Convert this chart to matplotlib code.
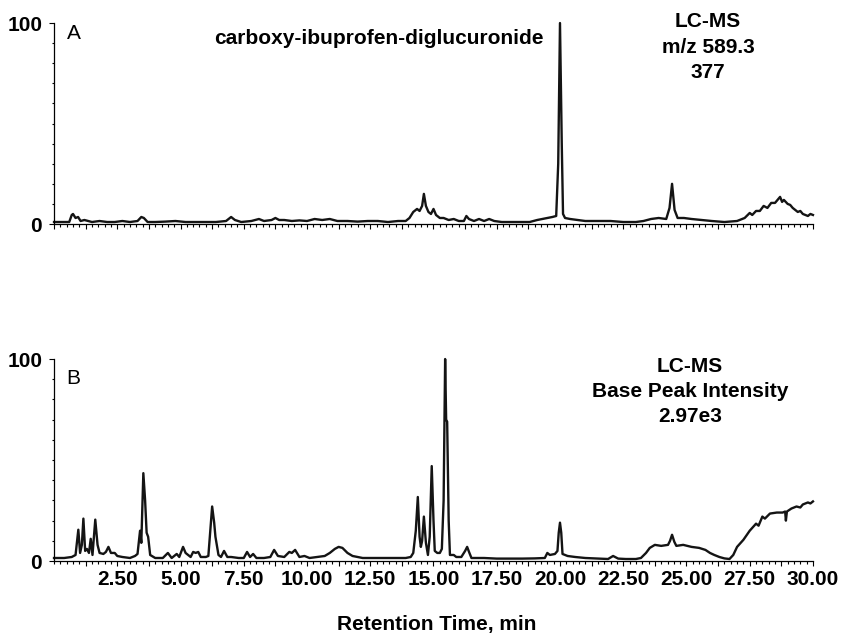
import matplotlib
matplotlib.use('Agg')

import matplotlib.pyplot as plt
from matplotlib.ticker import MultipleLocator, FixedLocator

plt.rcParams['font.family'] = ['Liberation Sans', 'DejaVu Sans']

# panel A: extracted ion chromatogram m/z 589.3
timeA = [0.0, 0.3, 0.6, 0.7, 0.75, 0.85, 0.95, 1.05, 1.2, 1.5, 1.8, 2.1, 2.4, 2.7, 3.0, 3.3,
         3.45, 3.55, 3.7, 4.0, 4.4, 4.8, 5.2, 5.6, 6.0, 6.4, 6.8, 7.0, 7.15, 7.4, 7.8, 8.1,
         8.3, 8.6, 8.75, 8.9, 9.1, 9.4, 9.7, 10.0, 10.3, 10.6, 10.9, 11.2, 11.6, 12.0, 12.4,
         12.8, 13.2, 13.6, 13.9, 14.05, 14.2, 14.35, 14.45, 14.55, 14.62, 14.7, 14.8, 14.9,
         15.0, 15.1, 15.25, 15.4, 15.6, 15.8, 16.0, 16.2, 16.3, 16.4, 16.6, 16.8, 17.0, 17.2,
         17.4, 17.7, 18.0, 18.4, 18.8, 19.1, 19.3, 19.5, 19.7, 19.85, 19.93, 20.0, 20.07,
         20.12, 20.2, 20.4, 20.7, 21.0, 21.5, 22.0, 22.5, 23.0, 23.3, 23.6, 23.9, 24.2, 24.33,
         24.43, 24.53, 24.65, 24.9, 25.2, 25.6, 26.0, 26.5, 27.0, 27.3, 27.5, 27.6, 27.75,
         27.9, 28.05, 28.2, 28.35, 28.5, 28.6, 28.7, 28.78, 28.85, 29.0, 29.1, 29.2, 29.4,
         29.5, 29.6, 29.8, 29.9, 30.0]
intensityA = [1, 1, 1, 4.5, 5, 3, 3.5, 1.5, 2, 1, 1.5, 1, 1, 1.5, 1, 1.5,
              3.5, 3, 1, 1, 1.2, 1.5, 1, 1, 1, 1, 1.5, 3.5, 2, 1, 1.5, 2.5,
              1.5, 2, 3, 2, 2, 1.5, 1.8, 1.5, 2.5, 2, 2.5, 1.5, 1.5, 1.2, 1.5,
              1.5, 1, 1.5, 1.5, 3, 6, 7.5, 6.5, 9, 15, 9, 6, 5,
              7.5, 4.5, 3, 3, 2, 2.5, 1.5, 1.5, 4, 2.5, 1.5, 2.5, 1.5, 2.5,
              1.5, 1, 1, 1, 1, 2, 2.5, 3, 3.5, 4, 30, 100, 40,
              5, 3, 2.5, 2, 1.5, 1.5, 1.5, 1, 1, 1.5, 2.5, 3, 2.5, 8,
              20, 7, 3, 3, 2.5, 2, 1.5, 1, 1.5, 3, 5.5, 4.5, 6.5,
              6.5, 9, 8, 10.5, 10.5, 12, 13.5, 11, 12, 10, 9.5, 8, 6,
              6.5, 5, 4, 5, 4.5]

# panel B: base peak intensity chromatogram
timeB = [0.0, 0.4, 0.7, 0.85, 0.96, 1.03, 1.1, 1.16, 1.23, 1.3, 1.38, 1.45, 1.52, 1.63, 1.72,
         1.8, 1.95, 2.05, 2.15, 2.25, 2.4, 2.5, 2.7, 3.0, 3.2, 3.3, 3.4, 3.45, 3.53, 3.6, 3.66,
         3.72, 3.8, 4.0, 4.3, 4.5, 4.65, 4.85, 4.95, 5.1, 5.2, 5.4, 5.5, 5.6, 5.7, 5.8, 6.0,
         6.1, 6.25, 6.33, 6.38, 6.5, 6.6, 6.72, 6.85, 7.0, 7.3, 7.5, 7.63, 7.75, 7.87, 8.0,
         8.3, 8.55, 8.7, 8.85, 9.1, 9.3, 9.4, 9.53, 9.7, 9.9, 10.1, 10.4, 10.7, 10.9, 11.1,
         11.25, 11.4, 11.6, 11.8, 12.2, 12.6, 13.0, 13.5, 13.9, 14.1, 14.2, 14.3, 14.38, 14.45,
         14.5, 14.55, 14.62, 14.7, 14.78, 14.85, 14.93, 15.0, 15.05, 15.15, 15.25, 15.33, 15.4,
         15.46, 15.5, 15.54, 15.6, 15.65, 15.8, 15.9, 16.1, 16.25, 16.33, 16.42, 16.5, 17.0,
         17.5, 18.0, 18.5, 19.0, 19.4, 19.5, 19.6, 19.8, 19.9, 19.95, 20.0, 20.05, 20.1, 20.3,
         20.6, 21.0, 21.5, 21.9, 22.1, 22.3, 22.6, 23.0, 23.2, 23.4, 23.55, 23.75, 24.0, 24.27,
         24.35, 24.43, 24.52, 24.6, 24.87, 25.2, 25.5, 25.75, 25.93, 26.1, 26.3, 26.5, 26.7,
         26.85, 27.0, 27.25, 27.5, 27.75, 27.85, 28.0, 28.1, 28.3, 28.57, 28.8, 28.9, 28.93,
         28.97, 29.15, 29.35, 29.5, 29.6, 29.8, 29.9, 30.0]
intensityB = [1.5, 1.5, 2, 3, 15.5, 4, 8, 21, 5, 6, 4, 11, 3, 20.5, 8,
              4, 3.5, 4.5, 7, 4, 4, 2.5, 2, 1.5, 2.5, 3.5, 15, 9, 43.5, 30, 14,
              12, 3, 1.5, 1.5, 4, 1.5, 3.5, 2, 7, 4, 2, 4.5, 4, 4.5, 2, 2,
              2.5, 27, 19, 12, 3, 2, 5, 2, 2, 1.5, 1.5, 4.5, 2, 3.5, 1.5,
              1.5, 2, 5.5, 2.5, 2, 4.5, 4, 5.5, 2, 2.5, 1.5, 2, 2.5, 4, 6,
              7, 6.5, 4, 2.5, 1.5, 1.5, 1.5, 1.5, 1.5, 2, 4, 15, 31.7, 12,
              7, 10, 22, 9, 3, 12, 47, 20, 5, 4, 4, 6, 30,
              100, 70, 69, 20, 3, 3, 2, 2, 5, 7, 4, 1.5, 1.5,
              1.2, 1.2, 1.2, 1.3, 1.5, 4, 3, 3.5, 5, 14, 19, 14, 3.5, 2.5,
              2, 1.5, 1.2, 1, 2.5, 1.2, 1, 1, 1.5, 4, 6.5, 8, 7.5, 8,
              10, 13, 9.5, 7.5, 8, 7, 6.5, 5.5, 4, 3, 2, 1.3, 1,
              3, 7, 10.5, 15, 18.5, 17.5, 22, 21, 23.5, 24, 24, 24.5, 20,
              24.5, 26, 27, 26.5, 28, 29, 28.5, 29.5]

xticks = [2.5, 5.0, 7.5, 10.0, 12.5, 15.0, 17.5, 20.0, 22.5, 25.0, 27.5, 30.0]
xticklabels = ['%.2f' % t for t in xticks]

fig = plt.figure(figsize=(8.51, 6.33), dpi=100)
axA = fig.add_axes([0.0635, 0.6461, 0.8918, 0.3175])
axB = fig.add_axes([0.0635, 0.1137, 0.8918, 0.3191])

for ax in (axA, axB):
    ax.set_xlim(0, 30)
    ax.set_ylim(0, 100)
    ax.spines['top'].set_visible(False)
    ax.spines['right'].set_visible(False)
    ax.spines['left'].set_linewidth(0.9)
    ax.spines['bottom'].set_linewidth(0.9)
    ax.xaxis.set_major_locator(MultipleLocator(1.25))
    ax.xaxis.set_minor_locator(MultipleLocator(0.25))
    ax.yaxis.set_major_locator(FixedLocator([0, 100]))
    ax.yaxis.set_minor_locator(MultipleLocator(10))
    ax.set_yticklabels(['0', '100'], fontsize=15, fontweight='bold')
    ax.tick_params(axis='both', which='major', length=3.5, width=0.8, direction='out')
    ax.tick_params(axis='both', which='minor', length=1.8, width=0.8, direction='out')
    ax.tick_params(axis='y', pad=5)
    ax.tick_params(axis='x', pad=3)
    ax.set_xticklabels([])

axA.plot(timeA, intensityA, color='#141414', lw=1.7, clip_on=False)
axB.plot(timeB, intensityB, color='#141414', lw=1.7, clip_on=False)

# labelled x ticks only every 2.5 min on the bottom panel
axB.set_xticks([i * 1.25 for i in range(1, 25)])
axB.set_xticklabels([xticklabels[i // 2] if i % 2 == 1 else '' for i in range(24)],
                    fontsize=15, fontweight='bold')

axA.text(0.5, 95, 'A', fontsize=15, va='center', ha='left')
axB.text(0.5, 90.6, 'B', fontsize=15, va='center', ha='left')

axA.text(12.85, 89.6, 'carboxy-ibuprofen-diglucuronide', fontsize=15, fontweight='bold',
         ha='center', va='baseline')
for txt, y in zip(['LC-MS', 'm/z 589.3', '377'], [98.2, 84.9, 72.5]):
    axA.text(25.85, y, txt, fontsize=15, fontweight='bold', ha='center', va='baseline',
             clip_on=False)
for txt, y in zip(['LC-MS', 'Base Peak Intensity', '2.97e3'], [93.7, 81.3, 69.0]):
    axB.text(25.14, y, txt, fontsize=15, fontweight='bold', ha='center', va='baseline')

fig.text(0.513, 0.004, 'Retention Time, min', fontsize=15, fontweight='bold',
         ha='center', va='baseline')

plt.savefig('out.png', dpi=100)
